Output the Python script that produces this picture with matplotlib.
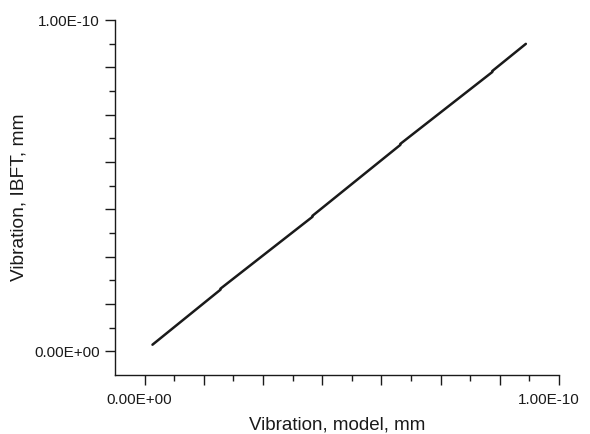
import numpy as np
import matplotlib
matplotlib.use("Agg")
import matplotlib.pyplot as plt
from matplotlib.ticker import FixedLocator, FixedFormatter
from matplotlib.transforms import ScaledTranslation

# Data (units: 1e-10 mm), small jogs where segments join
model_x = [0.019, 0.183, 0.183, 0.405, 0.405, 0.617, 0.617, 0.839, 0.839, 0.920]
ibft_y = [0.020, 0.186, 0.189, 0.406, 0.409, 0.623, 0.626, 0.843, 0.846, 0.928]

x_ticks_labels = ["0.00E+00", "1.00E-10"]
y_ticks_labels = ["0.00E+00", "1.00E-10"]

SCALE = 1e-10
STEP = SCALE / 7

plt.rcParams["font.family"] = ["Liberation Sans", "DejaVu Sans"]

fig = plt.figure(figsize=(5.9, 4.34), dpi=100)
ax = fig.add_axes([115 / 590, 1 - 375 / 434, (559 - 115) / 590, (375 - 20) / 434])

ax.plot(np.array(model_x) * SCALE, np.array(ibft_y) * SCALE,
        color="#1a1a1a", lw=1.8, solid_capstyle="round")

ax.set_xlim(-STEP / 2, SCALE)
ax.set_ylim(-STEP / 2, SCALE)

for side in ("top", "right"):
    ax.spines[side].set_visible(False)
for side in ("left", "bottom"):
    ax.spines[side].set_linewidth(1.0)
    ax.spines[side].set_color("#1a1a1a")

majors = [i * STEP for i in range(8)]
minors = [(i + 0.5) * STEP for i in range(7)]

ax.xaxis.set_major_formatter(FixedFormatter([x_ticks_labels[0]] + [""] * 6 + [x_ticks_labels[1]]))
ax.yaxis.set_major_formatter(FixedFormatter([y_ticks_labels[0]] + [""] * 6 + [y_ticks_labels[1]]))
for axis in (ax.xaxis, ax.yaxis):
    axis.set_major_locator(FixedLocator(majors))
    axis.set_minor_locator(FixedLocator(minors))

ax.tick_params(which="major", direction="out", length=7, width=1.0,
               color="#1a1a1a", labelsize=11, labelcolor="#1a1a1a")
ax.tick_params(which="minor", direction="out", length=4, width=1.0,
               color="#1a1a1a")
ax.tick_params(axis="y", which="major", pad=4)
ax.tick_params(axis="x", which="major", pad=6)

# the reference draws the x tick labels slightly left of their ticks
xt = ax.get_xticklabels()
for lbl, dx in ((xt[0], -5), (xt[-1], -10)):
    lbl.set_transform(lbl.get_transform() + ScaledTranslation(dx / 100, 0, fig.dpi_scale_trans))

ax.set_xlabel("Vibration, model, mm", fontsize=13.5, color="#1a1a1a", labelpad=7)
ax.set_ylabel("Vibration, IBFT, mm", fontsize=13.8, color="#1a1a1a", labelpad=5)

fig.savefig("out.png", dpi=100, facecolor="white")
plt.close(fig)
